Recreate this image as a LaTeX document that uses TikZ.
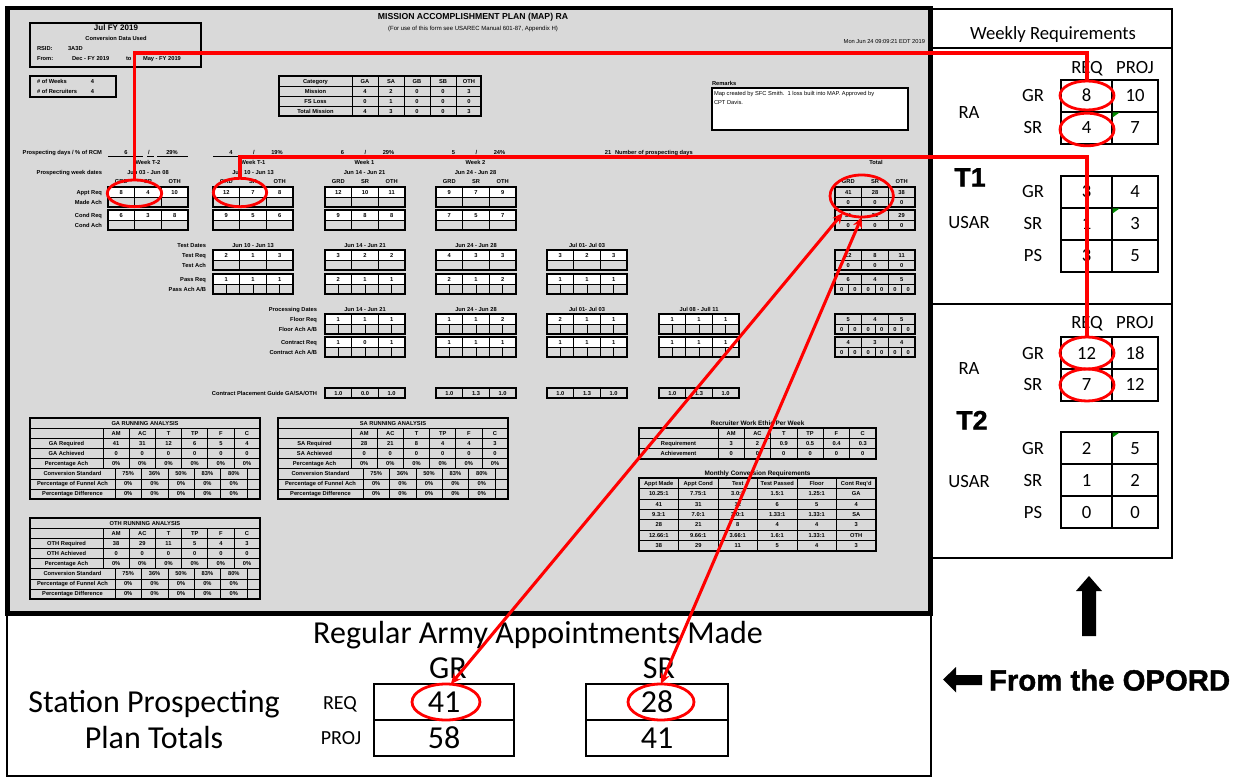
\documentclass[tikz,border=0pt]{standalone}
\usepackage{fontspec}
\setmainfont{Liberation Sans}
\newfontfamily\calfont{Carlito}
\newfontfamily\heavyfont{Liberation Sans}[BoldFeatures={FakeBold=1.3}]
\usetikzlibrary{shapes.geometric,arrows.meta}

\definecolor{formgray}{RGB}{217,217,217}
\definecolor{markred}{RGB}{255,0,0}
\definecolor{flaggreen}{RGB}{0,140,0}

\tikzset{
  every node/.style={inner sep=0pt,outer sep=0pt},
  ft/.style={font=\fontsize{4.3}{5}\selectfont\bfseries,text height=3.1pt,text depth=0pt},
  ftr/.style={font=\fontsize{4.3}{5}\selectfont,text height=3.1pt,text depth=0pt},
  fttitle/.style={font=\fontsize{4.8}{5.5}\selectfont\bfseries,text height=3.4pt,text depth=0pt},
  lbl/.style={ft,anchor=east},
  lbw/.style={ft,anchor=west},
  cellline/.style={draw=black,line width=0.35pt},
  boxline/.style={draw=black,line width=1.1pt},
  panelline/.style={draw=black,line width=1.5pt},
  gridline/.style={draw=black,line width=0.8pt},
  wktxt/.style={font=\calfont\fontsize{14}{16}\selectfont,text height=9pt,text depth=0pt},
  bigtxt/.style={font=\calfont\fontsize{24}{28}\selectfont,text height=15.5pt,text depth=0pt},
  midtxt/.style={font=\calfont\fontsize{15}{18}\selectfont,text height=9.7pt,text depth=0pt},
  tlabel/.style={font=\heavyfont\bfseries\fontsize{20}{22}\selectfont,text height=14.3pt,text depth=0pt},
  redline/.style={draw=markred,line width=2.3pt},
  redell/.style={ellipse,draw=markred,line width=2.1pt,inner sep=0pt,outer sep=0pt},
  redarrow/.style={draw=markred,line width=2.3pt,
     {Stealth[length=8pt,width=7pt]}-{Stealth[length=8pt,width=7pt]}},
  flag/.style={fill=flaggreen},
}

% one row of three cells, 80 x 10
\newcommand\rowthree[6]{%
 \begin{scope}[shift={(#1,#2)}]
  \path[fill=#3] (0,0) rectangle (80,10);
  \draw[cellline] (0,0) rectangle (80,10) (26.667,0) -- (26.667,10) (53.333,0) -- (53.333,10);
  \node[ft] (c#1-#2a) at (13.333,5) {#4};
  \node[ft] (c#1-#2b) at (40,5) {#5};
  \node[ft] (c#1-#2c) at (66.667,5) {#6};
 \end{scope}}

% one row of six half cells (A/B)
\newcommand\rowsix[9]{%
 \begin{scope}[shift={(#1,#2)}]
  \path[fill=#3] (0,0) rectangle (80,10);
  \draw[cellline] (0,0) rectangle (80,10);
  \foreach \k in {1,...,5} \draw[cellline] (\k*13.333,0) -- (\k*13.333,10);
  \node[ft] (c#1-#2a) at (6.667,5) {#4};
  \node[ft] (c#1-#2b) at (20,5) {#5};
  \node[ft] (c#1-#2c) at (33.333,5) {#6};
  \node[ft] (c#1-#2d) at (46.667,5) {#7};
  \node[ft] (c#1-#2e) at (60,5) {#8};
  \node[ft] (c#1-#2f) at (73.333,5) {#9};
 \end{scope}}

% requirement row over an achievement row, framed
% #8: 0 three blanks, 1 six blanks, 2 three zeros, 3 six zeros
\newcommand\twobox[8]{%
  \rowthree{#1}{#2}{#4}{#5}{#6}{#7}%
  \ifcase#8\relax
    \rowthree{#1}{#3}{formgray}{}{}{}%
  \or \rowsix{#1}{#3}{formgray}{}{}{}{}{}{}%
  \or \rowthree{#1}{#3}{formgray}{0}{0}{0}%
  \or \rowsix{#1}{#3}{formgray}{0}{0}{0}{0}{0}{0}%
  \fi
  \draw[boxline] (#1,#2) rectangle (#1+80,#3+10);}

% running analysis table
\newcommand\runtab[4]{%
 \begin{scope}[shift={(#1,#2)}]
  \foreach \r in {1,...,7} \draw[cellline] (0,\r*10.125) -- (230,\r*10.125);
  \foreach \k in {0,...,5} \draw[cellline] (73+\k*26.17,10.125) -- (73+\k*26.17,50.625);
  \foreach \k in {0,...,5} \draw[cellline] (85+\k*26.4,50.625) -- (85+\k*26.4,81);
  \draw[boxline] (0,0) rectangle (230,81);
  \node[ft] (#3-title) at (115,5.06) {#3 RUNNING ANALYSIS};
  \foreach \h [count=\i] in {AM,AC,T,TP,F,C} {
    \node[ft] (#3-h\i) at (60+26.17*\i,15.2) {\h};
    \node[ft] (#3-a\i) at (60+26.17*\i,35.4) {0};
    \node[ft] (#3-p\i) at (60+26.17*\i,45.6) {0\%};
  }
  \foreach \v [count=\i] in {#4} \node[ft] (#3-r\i) at (60+26.17*\i,25.3) {\v};
  \foreach \v [count=\i] in {75\%,36\%,50\%,83\%,80\%} {
    \node[ft] (#3-s\i) at (71.8+26.4*\i,55.7) {\v};
    \node[ft] (#3-f\i) at (71.8+26.4*\i,65.8) {0\%};
    \node[ft] (#3-d\i) at (71.8+26.4*\i,75.9) {0\%};
  }
  \node[ft] (#3-l1) at (36.5,25.3) {#3 Required};
  \node[ft] (#3-l2) at (36.5,35.4) {#3 Achieved};
  \node[ft] (#3-l3) at (36.5,45.6) {Percentage Ach};
  \node[ft] (#3-l4) at (42.5,55.7) {Conversion Standard};
  \node[ft] (#3-l5) at (42.5,65.8) {Percentage of Funnel Ach};
  \node[ft] (#3-l6) at (42.5,75.9) {Percentage Difference};
 \end{scope}}

\begin{document}
\begin{tikzpicture}[x=0.75pt,y=-0.75pt]
\useasboundingbox (0,0) rectangle (1243,777);
\fill[white] (0,0) rectangle (1243,777);

% ---------------- the MAP sheet ----------------
\draw[fill=formgray,line width=3.4pt] (7.5,8) rectangle (930.5,613.5);

% header boxes
\draw[line width=1pt] (30,23) rectangle (201,67);
\node[font=\fontsize{6}{7}\selectfont\bfseries,text height=4.3pt,text depth=0pt] (month) at (116,27.5) {Jul FY 2019};
\node[ft] (convdata) at (116,38.5) {Conversion Data Used};
\node[lbw] (rsid) at (37,48.5) {RSID:};
\node[lbw] (rsidv) at (68,48.5) {3A3D};
\node[lbw] (from) at (37,58.5) {From:};
\node[lbw] (fromv) at (72,58.5) {Dec - FY 2019};
\node[lbw] (tolbl) at (126,58.5) {to};
\node[lbw] (tov) at (143,58.5) {May - FY 2019};

\draw[line width=1pt] (30,76) rectangle (116,97);
\node[lbw] (weeks) at (37,81.5) {\# of Weeks};
\node[ft] (weeksv) at (92.5,81.5) {4};
\node[lbw] (recr) at (37,91) {\# of Recruiters};
\node[ft] (recrv) at (92.5,91) {4};

\node[font=\fontsize{6.5}{7.5}\selectfont\bfseries,text height=4.7pt,text depth=0pt] (maptitle) at (473,16) {MISSION ACCOMPLISHMENT PLAN (MAP) RA};
\node[ftr,font=\fontsize{4.5}{5}\selectfont] (mapsub) at (473,28) {(For use of this form see USAREC Manual 601-87, Appendix H)};
\node[ftr,anchor=east] (stamp) at (925,41) {Mon Jun 24 09:09:21 EDT 2019};

% category table
\begin{scope}[shift={(279,76)}]
 \foreach \r in {1,2,3} \draw[cellline] (0,\r*10) -- (202,\r*10);
 \foreach \c in {73,99,125,151,177} \draw[cellline] (\c,0) -- (\c,40);
 \draw[boxline] (0,0) rectangle (202,40);
 \foreach \t [count=\i from 0] in {Category,Mission,FS Loss,Total Mission}
   \node[ft] (cat\i) at (36.5,5+\i*10) {\t};
 \foreach \h/\a/\b/\c [count=\j from 0] in {GA/4/0/4,SA/2/1/3,GB/0/0/0,SB/0/0/0,OTH/3/0/3} {
   \node[ft] (cath\j) at (86+\j*26,5) {\h};
   \node[ft] (catm\j) at (86+\j*26,15) {\a};
   \node[ft] (catl\j) at (86+\j*26,25) {\b};
   \node[ft] (catt\j) at (86+\j*26,35) {\c};
 }
\end{scope}

% remarks
\node[lbw] (remarks) at (712,83) {Remarks};
\draw[fill=white,line width=0.8pt] (712,88) rectangle (908,130);
\node[ftr,anchor=west] (rem1) at (714,93) {Map created by SFC Smith.\ \ 1 loss built into MAP. Approved by};
\node[ftr,anchor=west] (rem2) at (714,102) {CPT Davis.};

% prospecting days
\node[lbl] (pdays) at (102,152) {Prospecting days / \% of RCM};
\foreach \x/\d/\p [count=\i] in {148/6/29\%,253/4/19\%,364.5/6/29\%,475.5/5/24\%} {
  \node[ft] (pd\i) at (\x-22,152) {\d};
  \node[ft] (ps\i) at (\x+1,152) {/};
  \node[ft] (pp\i) at (\x+24,152) {\p};
}
\draw[line width=0.5pt] (108,156.5) -- (143,156.5) (147,156.5) -- (154,156.5) (157,156.5) -- (188,156.5)
                        (213,156.5) -- (248,156.5) (252,156.5) -- (260,156.5) (263,156.5) -- (290,156.5);
\node[ft] (pdtot) at (608,152) {21};
\node[lbw] (pdtotl) at (615,152) {Number of prospecting days};

\node[ft] (wk1) at (148,162) {Week T-2};
\node[ft] (wk2) at (253,162) {Week T-1};
\node[ft] (wk3) at (364.5,162) {Week 1};
\node[ft] (wk4) at (475.5,162) {Week 2};
\node[ft] (wktot) at (876,162) {Total};
\node[lbl] (pwd) at (102,172) {Prospecting week dates};
\node[ft] (dt1) at (148,172) {Jun 03 - Jun 08};
\node[ft] (dt2) at (253,172) {Jun 10 - Jun 13};
\node[ft] (dt3) at (364.5,172) {Jun 14 - Jun 21};
\node[ft] (dt4) at (475.5,172) {Jun 24 - Jun 28};

\foreach \x in {108,213,325,436,835} {
  \node[ft] (gh\x) at (\x+13.3,181) {GRD};
  \node[ft] (sh\x) at (\x+40,181) {SR};
  \node[ft] (oh\x) at (\x+66.7,181) {OTH};
}

\node[lbl] (apr) at (102,192) {Appt Req};
\node[lbl] (mda) at (102,202) {Made Ach};
\node[lbl] (cdr) at (102,215) {Cond Req};
\node[lbl] (cda) at (102,225) {Cond Ach};

\twobox{108}{187}{197}{white}{8}{4}{10}{0}
\twobox{213}{187}{197}{white}{12}{7}{8}{0}
\twobox{325}{187}{197}{white}{12}{10}{11}{0}
\twobox{436}{187}{197}{white}{9}{7}{9}{0}
\twobox{835}{187}{197}{formgray}{41}{28}{38}{2}
\twobox{108}{210}{220}{white}{6}{3}{8}{0}
\twobox{213}{210}{220}{white}{9}{5}{6}{0}
\twobox{325}{210}{220}{white}{9}{8}{8}{0}
\twobox{436}{210}{220}{white}{7}{5}{7}{0}
\twobox{835}{210}{220}{formgray}{31}{21}{29}{2}

% tests
\node[lbl] (tdl) at (206,245.5) {Test Dates};
\node[lbl] (trq) at (206,255) {Test Req};
\node[lbl] (tac) at (206,265) {Test Ach};
\node[lbl] (prq) at (206,279) {Pass Req};
\node[lbl] (pac) at (206,289) {Pass Ach A/B};
\node[ft] (td1) at (253,245.5) {Jun 10 - Jun 13};
\node[ft] (td2) at (365,245.5) {Jun 14 - Jun 21};
\node[ft] (td3) at (476,245.5) {Jun 24 - Jun 28};
\node[ft] (td4) at (587,245.5) {Jul 01- Jul 03};

\twobox{213}{250}{260}{white}{2}{1}{3}{0}
\twobox{325}{250}{260}{white}{3}{2}{2}{0}
\twobox{436}{250}{260}{white}{4}{3}{3}{0}
\twobox{547}{250}{260}{white}{3}{2}{3}{0}
\twobox{835}{250}{260}{formgray}{12}{8}{11}{2}
\twobox{213}{274}{284}{white}{1}{1}{1}{1}
\twobox{325}{274}{284}{white}{2}{1}{1}{1}
\twobox{436}{274}{284}{white}{2}{1}{2}{1}
\twobox{547}{274}{284}{white}{1}{1}{1}{1}
\twobox{835}{274}{284}{formgray}{6}{4}{5}{3}

% processing
\node[lbl] (prd) at (317,309) {Processing Dates};
\node[lbl] (flr) at (317,319) {Floor Req};
\node[lbl] (fla) at (317,329) {Floor Ach A/B};
\node[lbl] (ctr) at (317,342) {Contract Req};
\node[lbl] (cta) at (317,352) {Contract Ach A/B};
\node[ft] (pdt1) at (365,309) {Jun 14 - Jun 21};
\node[ft] (pdt2) at (476,309) {Jun 24 - Jun 28};
\node[ft] (pdt3) at (587,309) {Jul 01- Jul 03};
\node[ft] (pdt4) at (699,309) {Jul 08 - Jull 11};

\twobox{325}{314}{324}{white}{1}{1}{1}{1}
\twobox{436}{314}{324}{white}{1}{1}{2}{1}
\twobox{547}{314}{324}{white}{2}{1}{1}{1}
\twobox{659}{314}{324}{white}{1}{1}{1}{1}
\twobox{835}{314}{324}{formgray}{5}{4}{5}{3}
\twobox{325}{337}{347}{white}{1}{0}{1}{1}
\twobox{436}{337}{347}{white}{1}{1}{1}{1}
\twobox{547}{337}{347}{white}{1}{1}{1}{1}
\twobox{659}{337}{347}{white}{1}{1}{1}{1}
\twobox{835}{337}{347}{formgray}{4}{3}{4}{3}

% contract placement guide
\node[lbl] (cpg) at (317,393) {Contract Placement Guide GA/SA/OTH};
\foreach \x/\a/\b/\c in {325/1.0/0.0/1.0,436/1.0/1.3/1.0,547/1.0/1.3/1.0,659/1.0/1.3/1.0} {
  \rowthree{\x}{388}{formgray}{\a}{\b}{\c}
  \draw[boxline] (\x,388) rectangle (\x+80,398);
}

% running analyses
\runtab{30}{418}{GA}{41,31,12,6,5,4}
\runtab{278}{418}{SA}{28,21,8,4,4,3}
\runtab{30}{518}{OTH}{38,29,11,5,4,3}

% recruiter work ethic
\node[fttitle] (ethic) at (757.5,423) {Recruiter Work Ethic Per Week};
\begin{scope}[shift={(639,428)}]
 \foreach \r in {1,2} \draw[cellline] (0,\r*10.33) -- (237,\r*10.33);
 \foreach \k in {0,...,5} \draw[cellline] (79+\k*26.33,0) -- (79+\k*26.33,31);
 \draw[boxline] (0,0) rectangle (237,31);
 \node[ft] (reqlbl) at (39.5,15.5) {Requirement};
 \node[ft] (achlbl) at (39.5,25.8) {Achievement};
 \foreach \h/\v [count=\i] in {AM/3,AC/2,T/0.9,TP/0.5,F/0.4,C/0.3} {
   \node[ft] (eh\i) at (79+26.33*\i-13.17,5.2) {\h};
   \node[ft] (er\i) at (79+26.33*\i-13.17,15.5) {\v};
   \node[ft] (ea\i) at (79+26.33*\i-13.17,25.8) {0};
 }
\end{scope}

% monthly conversion requirements
\node[fttitle] (monthly) at (757.5,473) {Monthly Conversion Requirements};
\begin{scope}[shift={(639,478)}]
 \foreach \r in {1,...,6} \draw[cellline] (0,\r*10.43) -- (237,\r*10.43);
 \foreach \k in {1,...,5} \draw[cellline] (\k*39.5,0) -- (\k*39.5,73);
 \draw[boxline] (0,0) rectangle (237,73);
 \foreach \rw [count=\r from 0] in {%
   {Appt Made,Appt Cond,Test,Test Passed,Floor,Cont Req'd},
   {10.25:1,7.75:1,3.0:1,1.5:1,1.25:1,GA},
   {41,31,12,6,5,4},
   {9.3:1,7.0:1,3.0:1,1.33:1,1.33:1,SA},
   {28,21,8,4,4,3},
   {12.66:1,9.66:1,3.66:1,1.6:1,1.33:1,OTH},
   {38,29,11,5,4,3}} {
   \foreach \v [count=\c from 0] in \rw
     \node[ft] (mc\r-\c) at (19.75+39.5*\c,5.2+10.43*\r) {\v};
 }
\end{scope}

% ---------------- weekly requirements panel ----------------
\draw[panelline] (930.5,9) rectangle (1172,558);
\draw[panelline] (930.5,48) -- (1172,48);
\draw[panelline] (930.5,304) -- (1172,304);
\node[wktxt] (wreq) at (1053,34) {Weekly Requirements};

% T1
\node[wktxt] (t1req) at (1087,68) {REQ};
\node[wktxt] (t1proj) at (1135,68) {PROJ};
\draw[gridline] (1061,80) rectangle (1158,144) (1061,112) -- (1158,112) (1112,80) -- (1112,144);
\draw[gridline] (1061,176) rectangle (1158,272) (1061,208) -- (1158,208) (1061,240) -- (1158,240) (1112,176) -- (1112,272);
\node[wktxt] (t1ra) at (969,113) {RA};
\node[tlabel] (t1) at (970,177) {T1};
\node[wktxt] (t1usar) at (969,223) {USAR};
\node[wktxt] (t1gr) at (1033,96) {GR};
\node[wktxt] (t1sr) at (1033,128) {SR};
\node[wktxt] (t1ugr) at (1033,192) {GR};
\node[wktxt] (t1usr) at (1033,224) {SR};
\node[wktxt] (t1ups) at (1033,256) {PS};
\foreach \y/\a/\b [count=\i] in {96/8/10,128/4/7,192/3/4,224/1/3,256/3/5} {
  \node[wktxt] (t1v\i a) at (1086.5,\y) {\a};
  \node[wktxt] (t1v\i b) at (1135,\y) {\b};
}
\fill[flag] (1112.5,112.5) -- (1119.5,112.5) -- (1112.5,117.5) -- cycle;
\fill[flag] (1112.5,208.5) -- (1119.5,208.5) -- (1112.5,213.5) -- cycle;

% T2
\node[wktxt] (t2req) at (1087,323) {REQ};
\node[wktxt] (t2proj) at (1135,323) {PROJ};
\draw[gridline] (1061,337) rectangle (1158,401) (1061,369) -- (1158,369) (1112,337) -- (1112,401);
\draw[gridline] (1061,432) rectangle (1158,528) (1061,464) -- (1158,464) (1061,496) -- (1158,496) (1112,432) -- (1112,528);
\node[wktxt] (t2ra) at (969,369) {RA};
\node[tlabel] (t2) at (972,420) {T2};
\node[wktxt] (t2usar) at (969,481) {USAR};
\node[wktxt] (t2gr) at (1033,353) {GR};
\node[wktxt] (t2sr) at (1033,385) {SR};
\node[wktxt] (t2ugr) at (1033,448) {GR};
\node[wktxt] (t2usr) at (1033,480) {SR};
\node[wktxt] (t2ups) at (1033,512) {PS};
\foreach \y/\a/\b [count=\i] in {353/12/18,385/7/12,448/2/5,480/1/2,512/0/0} {
  \node[wktxt] (t2v\i a) at (1086.5,\y) {\a};
  \node[wktxt] (t2v\i b) at (1135,\y) {\b};
}
\fill[flag] (1112.5,432.5) -- (1119.5,432.5) -- (1112.5,437.5) -- cycle;

% OPORD pointers
\fill[black] (1089,576) -- (1102,591) -- (1096,591) -- (1096,636) -- (1082,636) -- (1082,591) -- (1076,591) -- cycle;
\fill[black] (943,679.5) -- (956,667) -- (956,675) -- (982,675) -- (982,685) -- (956,685) -- (956,692.5) -- cycle;
\node[font=\heavyfont\bfseries\fontsize{22}{26}\selectfont,text height=15.8pt,text depth=0pt,anchor=west] (opord) at (989,680) {From the OPORD};

% ---------------- station prospecting plan totals ----------------
\draw[line width=1.5pt] (7,614) rectangle (931,776);
\node[bigtxt] (ramade) at (538,633) {Regular Army Appointments Made};
\node[bigtxt] (grh) at (448,668) {GR};
\node[bigtxt] (srh) at (659,668) {SR};
\node[bigtxt] (station) at (154,702) {Station Prospecting};
\node[bigtxt] (plantot) at (154,738) {Plan Totals};
\node[midtxt] (reqb) at (340,703) {REQ};
\node[midtxt] (projb) at (341,738) {PROJ};
\draw[line width=1pt] (374,684) rectangle (514,756) (374,720) -- (514,720);
\draw[line width=1pt] (586,684) rectangle (728,756) (586,720) -- (728,720);
\node[bigtxt] (gr41) at (444,702) {41};
\node[bigtxt] (gr58) at (444,738) {58};
\node[bigtxt] (sr28) at (657,702) {28};
\node[bigtxt] (sr41) at (657,738) {41};

% ---------------- red markings ----------------
\node[redell,minimum width=40.8pt,minimum height=20pt] (e1) at (134.5,193.3) {};
\node[redell,minimum width=40pt,minimum height=21.3pt] (e2) at (240,192.5) {};
\node[redell,minimum width=47.5pt,minimum height=31.5pt] (e3) at (861.7,196) {};
\node[redell,minimum width=40.5pt,minimum height=21.75pt] (e4) at (1087,95.5) {};
\node[redell,minimum width=40.5pt,minimum height=24.5pt] (e5) at (1087,129.5) {};
\node[redell,minimum width=40.5pt,minimum height=24pt] (e6) at (1087,353) {};
\node[redell,minimum width=40.5pt,minimum height=24pt] (e7) at (1087,385) {};
\node[redell,minimum width=51pt,minimum height=27pt] (e8) at (446,702) {};
\node[redell,minimum width=49.5pt,minimum height=27pt] (e9) at (661,702) {};

\coordinate (lvl1) at (0,53);
\coordinate (lvl2) at (0,157);
\draw[redline] (e4.north) -- (e4.north |- lvl1) -| (e1.north);
\draw[redline] (e6.north) -- (e6.north |- lvl2) -| (e2.north);
\draw[redarrow] (e8.75) -- (e3.222);
\draw[redarrow] (e9.north) -- (e3.south);
\end{tikzpicture}
\end{document}
